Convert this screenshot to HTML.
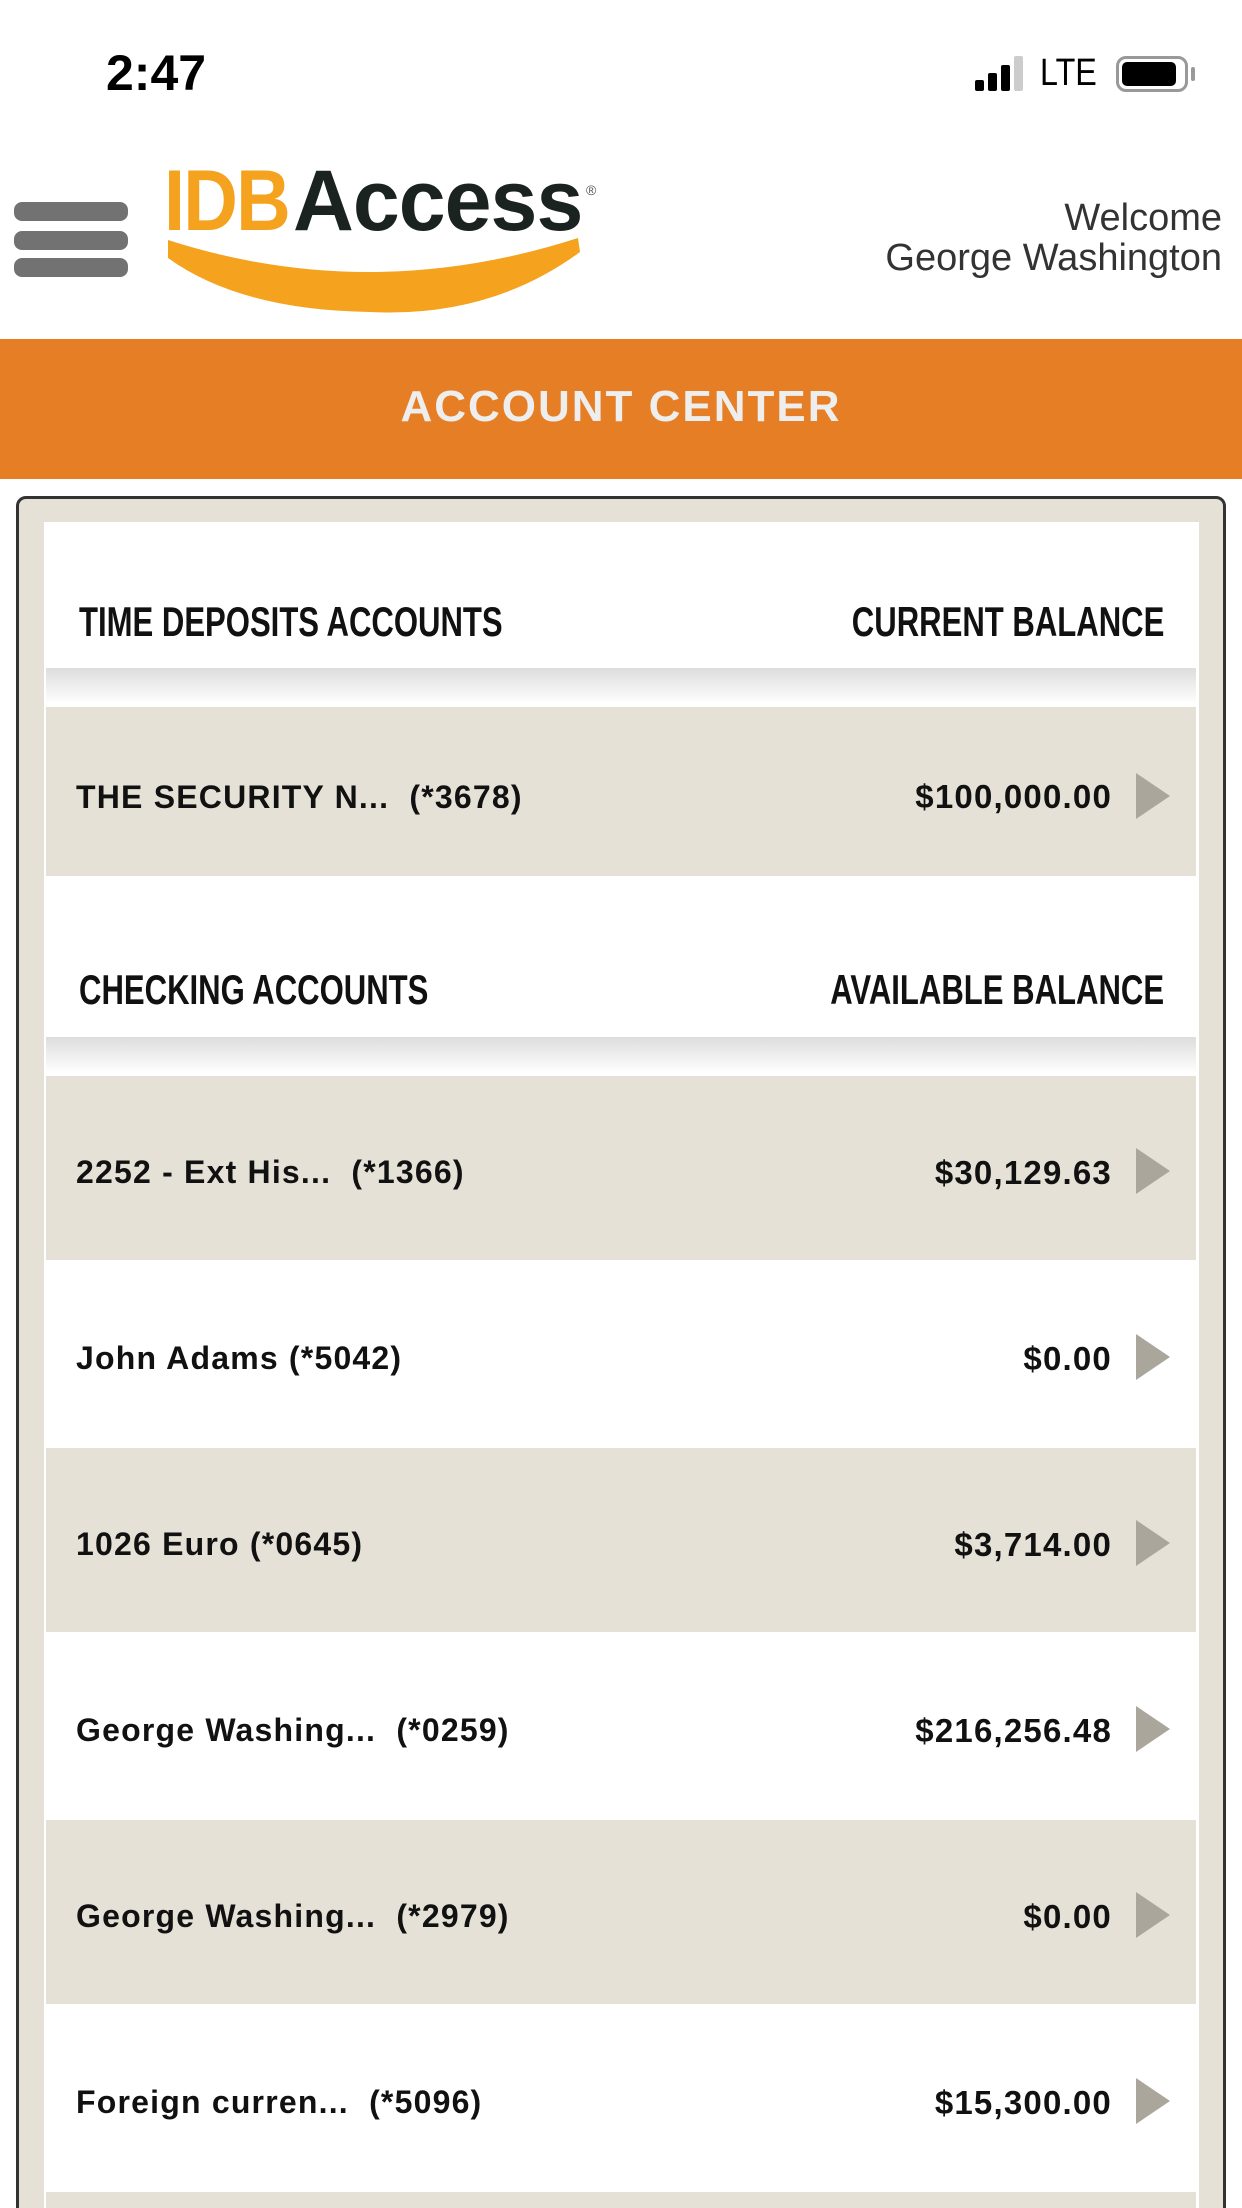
<!DOCTYPE html>
<html style="overflow:hidden;height:2208px"><head><meta charset="utf-8"><style>
*{margin:0;padding:0;box-sizing:border-box}
body{width:1242px;height:2208px;background:#fff;position:relative;overflow:hidden;font-family:"Liberation Sans",sans-serif}
.a{position:absolute}
.bar{position:absolute;left:14px;width:114px;height:19px;border-radius:8px;background:#727272}
.hdr{position:absolute;font-size:42px;font-weight:bold;color:#111;transform:scaleX(0.74);white-space:nowrap;top:598px}
.row{position:absolute;left:46px;width:1150px;height:184px}
.beige{background:#e5e1d7}
.lbl{position:absolute;left:30px;top:78px;font-size:32px;font-weight:bold;color:#111;white-space:nowrap;letter-spacing:1.2px}
.amt{position:absolute;right:84px;top:78px;font-size:33px;font-weight:bold;color:#111;white-space:nowrap;letter-spacing:1.2px}
.arr{position:absolute;right:26px;top:72px;width:0;height:0;border-top:23px solid transparent;border-bottom:23px solid transparent;border-left:34px solid #aaa69b}
.shadow{position:absolute;left:46px;width:1150px;height:36px;background:linear-gradient(#ddd,#fff)}
</style></head><body>
<div class="a" style="left:106px;top:44px;font-size:50px;font-weight:bold;color:#000">2:47</div>
<div class="a" style="left:975px;top:80px;width:9px;height:11px;background:#000;border-radius:2px"></div>
<div class="a" style="left:988px;top:73px;width:9px;height:18px;background:#000;border-radius:2px"></div>
<div class="a" style="left:1001px;top:65px;width:9px;height:26px;background:#000;border-radius:2px"></div>
<div class="a" style="left:1014px;top:56px;width:9px;height:35px;background:#ccc;border-radius:2px"></div>
<div class="a" style="left:1040px;top:52px;font-size:38px;color:#000;transform:scaleX(0.85);transform-origin:left">LTE</div>
<div class="a" style="left:1116px;top:56px;width:72px;height:36px;border:3px solid #999;border-radius:10px"></div>
<div class="a" style="left:1122px;top:62px;width:54px;height:24px;background:#000;border-radius:5px"></div>
<div class="a" style="left:1191px;top:67px;width:4px;height:14px;background:#999;border-radius:2px"></div>

<div class="bar" style="top:202px"></div>
<div class="bar" style="top:231px"></div>
<div class="bar" style="top:258px"></div>
<div class="a" style="left:164px;top:158px;font-size:86px;font-weight:bold;color:#f5a21f;letter-spacing:-2px;transform:scaleX(0.88);transform-origin:left;line-height:1">IDB</div>
<div class="a" style="left:293px;top:158px;font-size:86px;font-weight:bold;color:#1b2320;letter-spacing:-1px;transform:scaleX(0.98);transform-origin:left;line-height:1">Access</div>
<div class="a" style="left:586px;top:182px;font-size:14px;color:#555">®</div>
<svg class="a" style="left:160px;top:230px" width="430" height="85"><path d="M8 10 Q210 75 418 8 L420 22 Q330 88 210 82 Q80 80 8 28 Z" fill="#f5a21f"/></svg>
<div class="a" style="right:20px;top:198px;font-size:38px;color:#333;text-align:right;line-height:40px">Welcome<br>George Washington</div>

<div class="a" style="left:0;top:339px;width:1242px;height:140px;background:#e67e25"></div>
<div class="a" style="left:0;top:382px;width:1242px;text-align:center;font-size:44px;font-weight:bold;color:#eee;letter-spacing:2px">ACCOUNT CENTER</div>

<div class="a" style="left:16px;top:496px;width:1210px;height:1760px;border:3px solid #333;border-radius:10px;background:#e5e1d7"></div>
<div class="a" style="left:44px;top:522px;width:1155px;height:1700px;background:#fff"></div>

<div class="hdr" style="left:79px;transform-origin:left">TIME DEPOSITS ACCOUNTS</div>
<div class="hdr" style="right:78px;transform-origin:right">CURRENT BALANCE</div>
<div class="shadow" style="top:668px"></div>
<div class="row beige" style="top:707px;height:169px"><div class="lbl" style="top:72px">THE SECURITY N...&nbsp; (*3678)</div><div class="amt" style="top:71px">$100,000.00</div><div class="arr" style="top:66px"></div></div>

<div class="hdr" style="left:79px;top:966px;transform-origin:left">CHECKING ACCOUNTS</div>
<div class="hdr" style="right:78px;top:966px;transform-origin:right">AVAILABLE BALANCE</div>
<div class="shadow" style="top:1037px"></div>

<div class="row beige" style="top:1076px"><div class="lbl">2252 - Ext His...&nbsp; (*1366)</div><div class="amt">$30,129.63</div><div class="arr"></div></div>
<div class="row" style="top:1262px"><div class="lbl">John Adams (*5042)</div><div class="amt">$0.00</div><div class="arr"></div></div>
<div class="row beige" style="top:1448px"><div class="lbl">1026 Euro (*0645)</div><div class="amt">$3,714.00</div><div class="arr"></div></div>
<div class="row" style="top:1634px"><div class="lbl">George Washing...&nbsp; (*0259)</div><div class="amt">$216,256.48</div><div class="arr"></div></div>
<div class="row beige" style="top:1820px"><div class="lbl">George Washing...&nbsp; (*2979)</div><div class="amt">$0.00</div><div class="arr"></div></div>
<div class="row" style="top:2006px"><div class="lbl">Foreign curren...&nbsp; (*5096)</div><div class="amt">$15,300.00</div><div class="arr"></div></div>
<div class="row beige" style="top:2192px;height:16px"></div>
</body></html>
